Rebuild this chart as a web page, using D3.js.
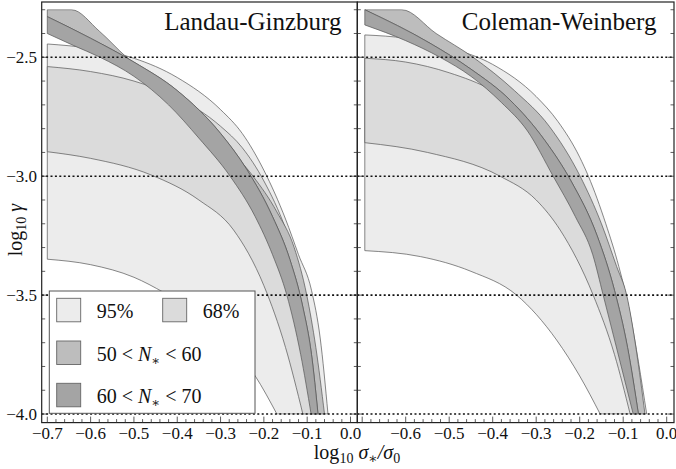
<!DOCTYPE html>
<html><head><meta charset="utf-8">
<script src="https://cdn.jsdelivr.net/npm/d3@7"></script>
<style>body{margin:0;background:#fff}</style>
</head><body><svg id="c" width="676" height="469" font-family="'Liberation Serif', 'Times New Roman', Times, 'DejaVu Serif', serif"></svg>
<script>
// ---- tick values ----
const yMajor = [-2.5, -3.0, -3.5, -4.0];
const yTickLabels = ["−2.5", "−3.0", "−3.5", "−4.0"];
const xMajorLeft = [-0.7, -0.6, -0.5, -0.4, -0.3, -0.2, -0.1, 0.0];
const xMajorRight = [-0.6, -0.5, -0.4, -0.3, -0.2, -0.1, 0.0];
const titles = ["Landau-Ginzburg", "Coleman-Weinberg"];

// ---- Landau-Ginzburg curves (x = log10 sigma*/sigma0, y = log10 gamma) ----
const lgO95x = [-0.70, -0.60, -0.50, -0.40, -0.30, -0.25, -0.20, -0.15, -0.12, -0.09, -0.07, -0.052];
const lgO95y = [-2.444, -2.463, -2.504, -2.585, -2.72, -2.82, -2.975, -3.18, -3.33, -3.48, -3.68, -4.0];
const lgI95x = [-0.70, -0.60, -0.50, -0.43, -0.35, -0.28, -0.22, -0.17];
const lgI95y = [-3.349, -3.372, -3.425, -3.49, -3.58, -3.70, -3.84, -4.0];
const lgU68x = [-0.70, -0.60, -0.50, -0.40, -0.30, -0.25, -0.20, -0.15, -0.11, -0.085, -0.068];
const lgU68y = [-2.539, -2.56, -2.60, -2.67, -2.79, -2.88, -3.02, -3.22, -3.45, -3.70, -4.0];
const lgL68x = [-0.70, -0.60, -0.46, -0.35, -0.27, -0.20, -0.15, -0.11];
const lgL68y = [-2.897, -2.925, -2.995, -3.10, -3.226, -3.46, -3.72, -4.0];
const lgBTx = [-0.70, -0.644, -0.58, -0.517, -0.45, -0.38, -0.30, -0.225, -0.17, -0.13, -0.101, -0.08, -0.06];
const lgBTy = [-2.30, -2.30, -2.39, -2.50, -2.60, -2.71, -2.85, -3.0, -3.15, -3.30, -3.50, -3.72, -4.0];
const lgBMx = [-0.70, -0.60, -0.50, -0.40, -0.30, -0.24, -0.18, -0.14, -0.11, -0.09, -0.075];
const lgBMy = [-2.329, -2.42, -2.52, -2.64, -2.82, -2.97, -3.17, -3.35, -3.55, -3.75, -4.0];
const lgBBx = [-0.70, -0.64, -0.578, -0.50, -0.42, -0.35, -0.278, -0.22, -0.18, -0.147, -0.115, -0.091];
const lgBBy = [-2.40, -2.45, -2.50, -2.58, -2.70, -2.84, -3.0, -3.17, -3.33, -3.50, -3.75, -4.0];

// ---- Coleman-Weinberg curves ----
const cwO95x = [-0.694, -0.60, -0.50, -0.40, -0.30, -0.25, -0.20, -0.18, -0.14, -0.11, -0.084, -0.065, -0.046];
const cwO95y = [-2.406, -2.42, -2.46, -2.53, -2.665, -2.77, -2.92, -3.0, -3.20, -3.38, -3.58, -3.78, -4.0];
const cwI95x = [-0.694, -0.566, -0.45, -0.345, -0.253, -0.20, -0.153];
const cwI95y = [-3.313, -3.338, -3.40, -3.50, -3.689, -3.84, -4.0];
const cwU68x = [-0.694, -0.60, -0.50, -0.40, -0.30, -0.22, -0.16, -0.12, -0.09, -0.068];
const cwU68y = [-2.504, -2.52, -2.565, -2.64, -2.77, -2.95, -3.17, -3.40, -3.68, -4.0];
const cwL68x = [-0.694, -0.55, -0.383, -0.30, -0.245, -0.169, -0.12, -0.084];
const cwL68y = [-2.859, -2.90, -3.0, -3.10, -3.226, -3.50, -3.75, -4.0];
const cwBTx = [-0.694, -0.609, -0.53, -0.445, -0.35, -0.27, -0.199, -0.15, -0.115, -0.092, -0.07, -0.05];
const cwBTy = [-2.30, -2.30, -2.40, -2.50, -2.64, -2.79, -3.0, -3.20, -3.38, -3.50, -3.73, -4.0];
const cwBMx = [-0.694, -0.544, -0.45, -0.36, -0.28, -0.22, -0.16, -0.12, -0.09, -0.065];
const cwBMy = [-2.30, -2.441, -2.55, -2.68, -2.85, -3.02, -3.25, -3.48, -3.72, -4.0];
const cwBBx = [-0.694, -0.60, -0.521, -0.45, -0.38, -0.32, -0.261, -0.21, -0.17, -0.146, -0.11, -0.077];
const cwBBy = [-2.364, -2.43, -2.50, -2.58, -2.69, -2.81, -3.0, -3.17, -3.33, -3.50, -3.76, -4.0];

// ---- legend ----
const legendLabels = ["95%", "68%", "50 < N* < 60", "60 < N* < 70"];
const fillColors = ["#ececec", "#dbdbdb", "#bdbdbd", "#a4a4a4"];

// ================= drawing =================
const svg = d3.select("#c");
const plotTop = 2, plotBottom = 422.6;
const yS = d3.scaleLinear().domain([-2.2675, -4.036]).range([plotTop, plotBottom]);
const panels = [
  {x: d3.scaleLinear().domain([-0.7, 0.0]).range([47.3, 350.5]), left: 41.7, right: 357.3,
   ticks: xMajorLeft, title: titles[0], titleX: 341.5,
   o95: [lgO95x, lgO95y], i95: [lgI95x, lgI95y], u68: [lgU68x, lgU68y], l68: [lgL68x, lgL68y],
   bt: [lgBTx, lgBTy], bm: [lgBMx, lgBMy], bb: [lgBBx, lgBBy]},
  {x: d3.scaleLinear().domain([-0.6, 0.0]).range([405.7, 666.7]), left: 357.3, right: 674,
   ticks: xMajorRight, title: titles[1], titleX: 656.5,
   o95: [cwO95x, cwO95y], i95: [cwI95x, cwI95y], u68: [cwU68x, cwU68y], l68: [cwL68x, cwL68y],
   bt: [cwBTx, cwBTy], bm: [cwBMx, cwBMy], bb: [cwBBx, cwBBy]}
];

const edge = "#555";
panels.forEach((p, pi) => {
  const g = svg.append("g");
  const clipId = "clip" + pi;
  svg.append("clipPath").attr("id", clipId).append("rect")
    .attr("x", p.left).attr("y", yS(-2.3) - 0.5)
    .attr("width", p.right - p.left).attr("height", yS(-4.0) - yS(-2.3) + 1);
  const gc = g.append("g").attr("clip-path", `url(#${clipId})`);
  const pts = (c) => c[0].map((v, i) => [p.x(v), yS(c[1][i])]);
  const line = d3.line().curve(d3.curveMonotoneX);
  const poly = (up, lo) => line(pts(up)) + line(pts(lo).reverse()).replace("M", "L") + "Z";
  const drawPoly = (up, lo, col) => gc.append("path").attr("d", poly(up, lo))
    .attr("fill", col).attr("stroke", edge).attr("stroke-width", 0.7).attr("stroke-linejoin", "round");
  drawPoly(p.o95, p.i95, fillColors[0]);
  drawPoly(p.u68, p.l68, fillColors[1]);
  drawPoly(p.bt, p.bm, fillColors[2]);
  drawPoly(p.bm, p.bb, fillColors[3]);

  // dotted reference lines
  yMajor.forEach(v => g.append("line").attr("x1", p.left).attr("x2", p.right)
    .attr("y1", yS(v)).attr("y2", yS(v)).attr("stroke", "#111").attr("stroke-width", 1.6)
    .attr("stroke-dasharray", "2,2.4"));

  // frame
  g.append("rect").attr("x", p.left).attr("y", plotTop).attr("width", p.right - p.left)
    .attr("height", plotBottom - plotTop).attr("fill", "none").attr("stroke", "#222").attr("stroke-width", 1.2);

  // y ticks (inward, both sides)
  d3.range(-2.3, -4.05, -0.1).forEach(v => {
    const maj = Math.abs(v * 2 - Math.round(v * 2)) < 1e-6;
    const len = maj ? 6 : 3.5;
    g.append("line").attr("x1", p.left).attr("x2", p.left + len).attr("y1", yS(v)).attr("y2", yS(v))
      .attr("stroke", "#333").attr("stroke-width", 0.8);
    g.append("line").attr("x1", p.right).attr("x2", p.right - len).attr("y1", yS(v)).attr("y2", yS(v))
      .attr("stroke", "#333").attr("stroke-width", 0.8);
  });
  // x ticks (inward, bottom)
  d3.range(-0.7, 0.011, 0.02).forEach(v => {
    const px = p.x(v);
    if (px < p.left || px > p.right) return;
    const maj = Math.abs(v * 10 - Math.round(v * 10)) < 1e-6;
    g.append("line").attr("x1", px).attr("x2", px).attr("y1", plotBottom).attr("y2", plotBottom - (maj ? 6 : 3.5))
      .attr("stroke", "#333").attr("stroke-width", 0.8);
  });
  // x tick labels
  p.ticks.forEach(v => g.append("text").attr("x", p.x(v)).attr("y", 439).attr("text-anchor", "middle")
    .attr("font-size", 17).attr("fill", "#111").text((v < 0 ? "−" : "") + Math.abs(v).toFixed(1)));
  // title
  g.append("text").attr("x", p.titleX).attr("y", 29.5).attr("text-anchor", "end")
    .attr("font-size", 25).attr("fill", "#111").text(p.title);
});

// y tick labels
yMajor.forEach((v, i) => svg.append("text").attr("x", 37).attr("y", yS(v) + 6).attr("text-anchor", "end")
  .attr("font-size", 17).attr("fill", "#111").text(yTickLabels[i]));

// axis labels
const xl = svg.append("text").attr("x", 357).attr("y", 459).attr("text-anchor", "middle").attr("font-size", 20).attr("fill", "#111");
xl.append("tspan").text("log");
xl.append("tspan").attr("font-size", 14).attr("dy", 4).text("10");
xl.append("tspan").attr("dy", -4).attr("font-style", "italic").text(" σ");
xl.append("tspan").attr("font-size", 14).attr("dy", 4).text("∗");
xl.append("tspan").attr("dy", -4).attr("font-style", "italic").text("/σ");
xl.append("tspan").attr("font-size", 14).attr("dy", 4).text("0");

const yl = svg.append("text").attr("transform", "translate(22,230) rotate(-90)").attr("text-anchor", "middle").attr("font-size", 20).attr("fill", "#111");
yl.append("tspan").text("log");
yl.append("tspan").attr("font-size", 14).attr("dy", 4).text("10");
yl.append("tspan").attr("dy", -4).attr("font-style", "italic").text(" γ");

// legend
const lg = svg.append("g");
lg.append("rect").attr("x", 49.3).attr("y", 291).attr("width", 205.7).attr("height", 122.3)
  .attr("fill", "#fff").attr("stroke", "#555").attr("stroke-width", 1);
const legPos = [[56.7, 298.3], [162.7, 298.3], [56.7, 341], [56.7, 383.3]];
legendLabels.forEach((lab, i) => {
  const [sx, sy] = legPos[i];
  lg.append("rect").attr("x", sx).attr("y", sy).attr("width", 24).attr("height", 23.5)
    .attr("fill", fillColors[i]).attr("stroke", "#666").attr("stroke-width", 0.9);
  const t = lg.append("text").attr("x", sx + 40).attr("y", sy + 20).attr("font-size", 20).attr("fill", "#111");
  if (lab.indexOf("N*") < 0) { t.text(lab); }
  else {
    const parts = lab.split("N*");
    t.append("tspan").text(parts[0]);
    t.append("tspan").attr("font-style", "italic").text("N");
    t.append("tspan").attr("font-size", 13).attr("dy", 4).text("∗");
    t.append("tspan").attr("dy", -4).text(parts[1]);
  }
});
</script>
</body></html>
